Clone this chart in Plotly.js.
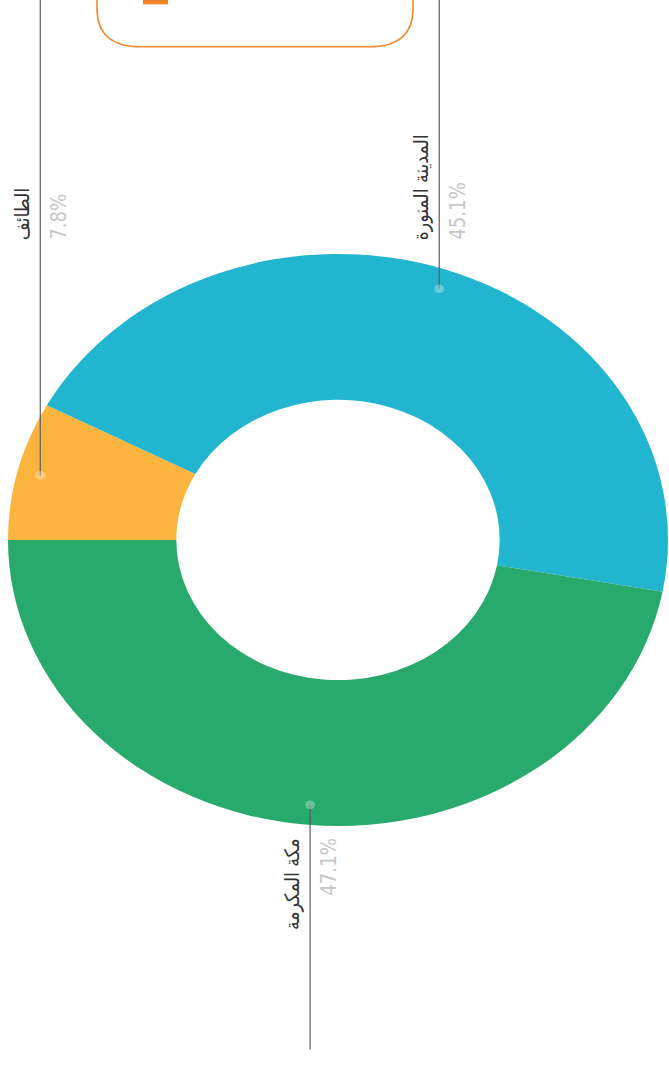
<!DOCTYPE html>
<html>
<head>
<meta charset="utf-8">
<script src="https://cdn.plot.ly/plotly-3.0.1.min.js"></script>
<style>
  html, body { margin: 0; padding: 0; background: #ffffff; overflow: hidden; }
  #wrap { width: 669px; height: 1078px; overflow: hidden; position: relative; }
  #chart { width: 669px; height: 1244px; transform: scaleY(0.8667); transform-origin: 0 0; }
</style>
</head>
<body>
<div id="wrap"><div id="chart"></div></div>
<script>
// ---- data ----
const regions = ['الطائف', 'المدينة المنورة', 'مكة المكرمة'];
const shares = [7.8, 45.1, 47.1];
const sliceColors = ['#fbb43e', '#21b5d0', '#28aa6c'];
const pctLabels = ['7.8%', '45.1%', '47.1%'];

// ---- geometry (pixels in the unscaled plot) ----
const W = 669, H = 1244;
const cx = 338, cy = 623, R = 330;
const px = x => x / W;
const py = y => 1 - y / H;

const total = shares.reduce((a, b) => a + b, 0);
const shapes = [];
const annotations = [];
let cum = 0;
shares.forEach((v, i) => {
  const mid = (180 - (cum + v / 2) / total * 360) * Math.PI / 180;
  cum += v;
  const dx = cx + 0.93 * R * Math.cos(mid);
  const dy = cy - 0.93 * R * Math.sin(mid);
  const upper = dy < cy;
  const endY = upper ? 0 : 1211;
  shapes.push({type: 'line', xref: 'paper', yref: 'paper', x0: px(dx), x1: px(dx), y0: py(dy), y1: py(endY),
    line: {color: '#5a5e61', width: 1.2}, layer: 'above'});
  shapes.push({type: 'circle', xref: 'paper', yref: 'paper', x0: px(dx - 5), x1: px(dx + 5), y0: py(dy - 5), y1: py(dy + 5),
    fillcolor: 'rgba(255,255,255,0.3)', line: {width: 0}, layer: 'above'});
  const ly = upper ? cy - R - 14 : cy + R + 12;
  const anchor = upper ? 'bottom' : 'top';
  annotations.push({xref: 'paper', yref: 'paper', x: px(dx - 18), y: py(ly), xanchor: 'center', yanchor: anchor,
    text: regions[i], textangle: -90, showarrow: false,
    font: {family: 'DejaVu Sans', size: 20, color: '#333333'}});
  annotations.push({xref: 'paper', yref: 'paper', x: px(dx + 18), y: py(ly), xanchor: 'center', yanchor: anchor,
    text: pctLabels[i], textangle: -90, showarrow: false,
    font: {family: 'DejaVu Sans', size: 21, color: '#c3c7ca'}});
});

// decorative orange rounded box at the top (partially cut off)
const boxPath = 'M' + px(97) + ',' + py(-30) + ' L' + px(97) + ',' + py(10) +
  ' Q' + px(97) + ',' + py(54) + ' ' + px(141) + ',' + py(54) +
  ' L' + px(369) + ',' + py(54) +
  ' Q' + px(413) + ',' + py(54) + ' ' + px(413) + ',' + py(10) +
  ' L' + px(413) + ',' + py(-30);
shapes.push({type: 'path', xref: 'paper', yref: 'paper', path: boxPath,
  line: {color: '#f08a30', width: 1.6}, layer: 'above'});
shapes.push({type: 'rect', xref: 'paper', yref: 'paper', x0: px(143), x1: px(168), y0: py(-5), y1: py(5),
  fillcolor: '#f0832a', line: {width: 0}, layer: 'above'});

const trace = {
  type: 'pie',
  labels: regions,
  values: shares,
  hole: 0.49,
  sort: false,
  direction: 'clockwise',
  rotation: 270,
  textinfo: 'none',
  hoverinfo: 'label+percent',
  marker: {colors: sliceColors, line: {width: 0}},
  domain: {x: [px(cx - R), px(cx + R)], y: [py(cy + R), py(cy - R)]},
  showlegend: false
};

const layout = {
  width: W, height: H,
  margin: {l: 0, r: 0, t: 0, b: 0},
  paper_bgcolor: '#ffffff',
  showlegend: false,
  shapes: shapes,
  annotations: annotations
};

Plotly.newPlot('chart', [trace], layout, {displayModeBar: false, responsive: false});
</script>
</body>
</html>
